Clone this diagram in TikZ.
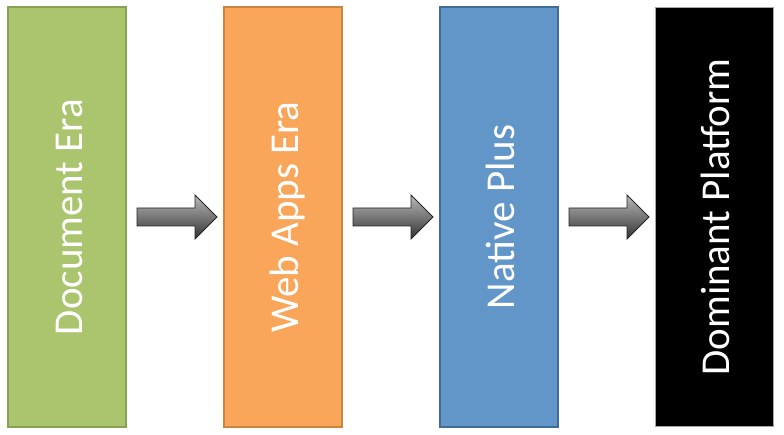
\documentclass[tikz,border=0pt]{standalone}
\usepackage{fontspec}
\setmainfont{Carlito}
\usepackage{tikz}
\usetikzlibrary{calc,positioning}
\definecolor{docgreen}{RGB}{171,196,110}
\definecolor{docgreenline}{RGB}{137,162,82}
\definecolor{weborange}{RGB}{249,166,90}
\definecolor{weborangeline}{RGB}{205,132,64}
\definecolor{nativeblue}{RGB}{99,150,200}
\definecolor{nativeblueline}{RGB}{66,108,152}
\newcommand{\eratext}[1]{\rotatebox{90}{\rule{0pt}{0.75em}\smash{#1}}}
\newcommand{\eraarrow}[2]{%
\coordinate (#1s) at ($(#1.east)+(10,0)$);
\coordinate (#1t) at ($(#2.west)+(-6,0)$);
\path[blockarrow] ($(#1s)+(0,9)$)--($(#1t)+(-22,9)$)--($(#1t)+(-22,22)$)--(#1t)
  --($(#1t)+(-22,-22)$)--($(#1t)+(-22,-9)$)--($(#1s)+(0,-9)$)--cycle;}

\begin{document}
\begin{tikzpicture}[x=1pt,y=1pt,node distance=96pt,
  era/.style={draw, line width=2pt, minimum width=118pt, minimum height=419pt,
    inner sep=0pt, text=white, font=\fontsize{41}{49}\selectfont},
  blockarrow/.style={draw=black!85, line width=0.8pt, top color=gray!55, bottom color=black!80}]
\useasboundingbox (0,0) rectangle (784,434);
\node[era, fill=docgreen, draw=docgreenline] (doc) at (67,217) {\eratext{Document Era}};
\node[era, fill=weborange, draw=weborangeline, right=of doc] (web) {\eratext{Web Apps Era}};
\node[era, fill=nativeblue, draw=nativeblueline, right=of web] (native) {\eratext{Native Plus}};
\node[era, fill=black, draw=gray!70, line width=1pt, right=of native] (dominant) {\eratext{Dominant Platform}};
\eraarrow{doc}{web}
\eraarrow{web}{native}
\eraarrow{native}{dominant}
\end{tikzpicture}
\end{document}
